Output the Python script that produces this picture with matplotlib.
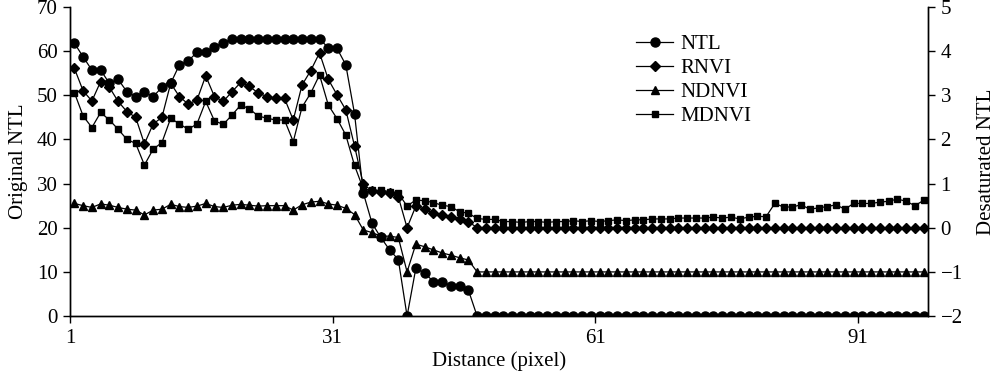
import matplotlib
matplotlib.use("Agg")
import matplotlib.pyplot as plt
import numpy as np

plt.rcParams['font.family'] = ['Liberation Serif', 'DejaVu Serif']

distance = list(range(1, 99))

ntl = [61.8, 58.7, 55.7, 55.7, 52.7, 53.6, 50.8, 49.7, 50.8, 49.7,
       51.8, 52.7, 56.9, 57.8, 59.7, 59.7, 61.0, 61.9, 62.7, 62.7,
       62.7, 62.7, 62.7, 62.7, 62.7, 62.7, 62.7, 62.7, 62.7, 60.8,
       60.6, 56.9, 45.8, 27.9, 21.0, 17.8, 15.0, 12.8, 0.0, 10.8,
       9.8, 7.8, 7.8, 6.9, 6.8, 5.9] + [0.0] * 52

rnvi = [3.61, 3.10, 2.87, 3.31, 3.18, 2.86, 2.63, 2.50, 1.90, 2.35,
        2.50, 3.27, 2.97, 2.80, 2.89, 3.44, 2.97, 2.86, 3.08, 3.29,
        3.20, 3.05, 2.97, 2.93, 2.93, 2.44, 3.23, 3.56, 3.96, 3.36,
        3.01, 2.67, 1.85, 0.98, 0.84, 0.82, 0.79, 0.70, 0.00, 0.49,
        0.42, 0.33, 0.29, 0.24, 0.20, 0.14] + [0.0] * 52

ndnvi = [0.55, 0.50, 0.46, 0.54, 0.51, 0.46, 0.42, 0.40, 0.29, 0.40,
         0.42, 0.53, 0.48, 0.46, 0.49, 0.55, 0.48, 0.46, 0.51, 0.53,
         0.51, 0.49, 0.50, 0.50, 0.50, 0.40, 0.52, 0.58, 0.60, 0.54,
         0.51, 0.44, 0.30, -0.05, -0.11, -0.19, -0.19, -0.22, -1.0, -0.37,
         -0.43, -0.50, -0.57, -0.62, -0.68, -0.73] + [-1.0] * 52

mdnvi = [3.06, 2.53, 2.27, 2.61, 2.44, 2.23, 2.00, 1.91, 1.42, 1.78,
         1.93, 2.48, 2.35, 2.23, 2.35, 2.86, 2.42, 2.34, 2.55, 2.78,
         2.69, 2.53, 2.48, 2.44, 2.44, 1.95, 2.73, 3.05, 3.46, 2.78,
         2.47, 2.10, 1.41, 0.88, 0.85, 0.85, 0.82, 0.78, 0.49, 0.63,
         0.61, 0.57, 0.51, 0.48, 0.36, 0.33,
         0.21, 0.19, 0.19, 0.14, 0.14, 0.12, 0.14, 0.14, 0.12, 0.14,
         0.14, 0.16, 0.14, 0.16, 0.14, 0.16, 0.18, 0.16, 0.18, 0.18,
         0.20, 0.20, 0.20, 0.22, 0.22, 0.22, 0.22, 0.24, 0.22, 0.24,
         0.20, 0.24, 0.26, 0.25, 0.55, 0.47, 0.47, 0.52, 0.42, 0.45,
         0.48, 0.52, 0.42, 0.55, 0.55, 0.55, 0.58, 0.60, 0.65, 0.60,
         0.50, 0.62]

xtick_labels = ['1', '31', '61', '91']

fig = plt.figure(figsize=(10, 3.85), dpi=100)
ax = fig.add_axes([0.070, 0.179, 0.858, 0.803])
ax2 = ax.twinx()

lw = 0.9
h1, = ax.plot(distance, ntl, color='black', lw=lw, marker='o', ms=6.5, label='NTL')
h2, = ax2.plot(distance, rnvi, color='black', lw=lw, marker='D', ms=4.8, label='RNVI')
h3, = ax2.plot(distance, ndnvi, color='black', lw=lw, marker='^', ms=6.0, label='NDNVI')
h4, = ax2.plot(distance, mdnvi, color='black', lw=lw, marker='s', ms=4.8, label='MDNVI')

ax.set_xlim(0.5, 98.5)
ax.set_ylim(0, 70)
ax2.set_ylim(-2, 5)
ax.set_yticks(np.arange(0, 71, 10))
ax2.set_yticks(np.arange(-2, 6, 1))
ax2.set_yticklabels(['\u22122', '\u22121', '0', '1', '2', '3', '4', '5'])
ax.set_xticks([0.5, 30.5, 60.5, 90.5])
ax.set_xticklabels(xtick_labels)

for a in (ax, ax2):
    a.spines['top'].set_visible(False)
    for s in a.spines.values():
        s.set_linewidth(1.0)
    a.tick_params(direction='out', length=5, width=1.0, labelsize=15, pad=4)

ax.set_ylabel('Original NTL', fontsize=15, labelpad=6)
ax2.set_ylabel('Desaturated NTL', fontsize=15, labelpad=10)
ax.set_xlabel('Distance (pixel)', fontsize=15, labelpad=3)

leg = ax2.legend(handles=[h1, h2, h3, h4], loc='upper left', bbox_to_anchor=(0.645, 0.952),
                 frameon=False, fontsize=15, handlelength=1.8, labelspacing=0.22,
                 handletextpad=0.35, borderaxespad=0.2)

fig.savefig('out.png', dpi=100)
